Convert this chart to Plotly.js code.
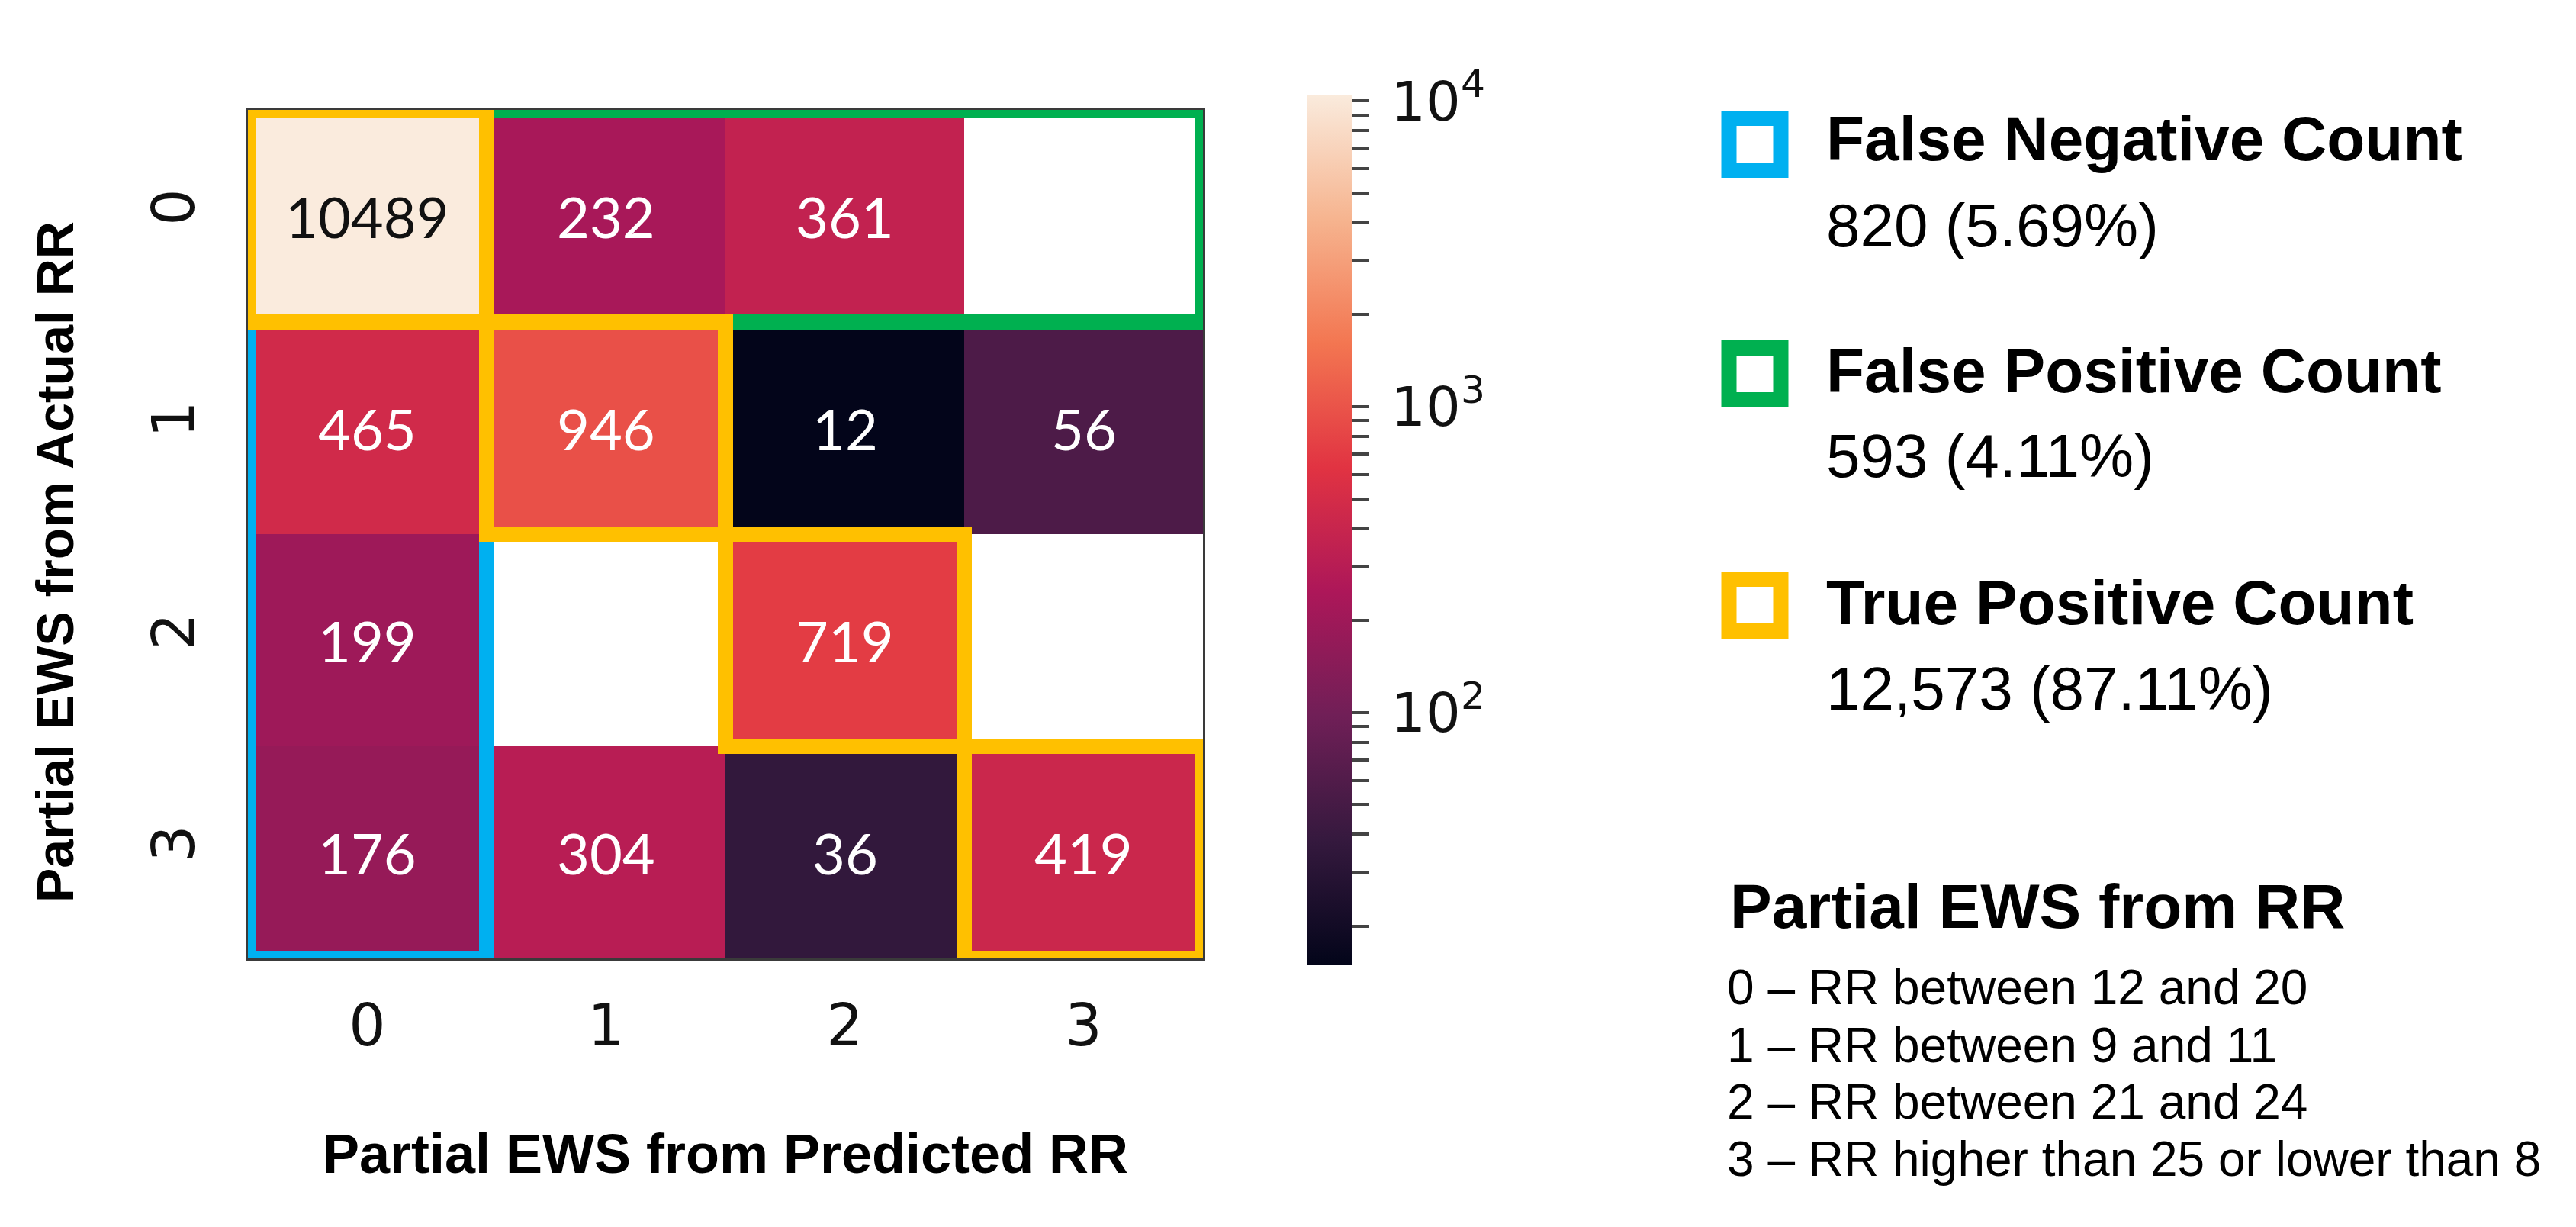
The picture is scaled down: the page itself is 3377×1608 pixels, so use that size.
<!DOCTYPE html>
<html>
<head>
<meta charset="utf-8">
<script src="https://cdn.plot.ly/plotly-3.0.1.min.js"></script>
<style>
  html, body { margin: 0; padding: 0; background: #ffffff; }
  #plot { width: 3377px; height: 1608px; }
</style>
</head>
<body>
<div id="plot"></div>
<script>
// Confusion matrix: rows = actual partial EWS, columns = predicted partial EWS
const predLabels = ["0", "1", "2", "3"];
const actualLabels = ["0", "1", "2", "3"];
const counts = [
  [10489, 232, 361, null],
  [465, 946, 12, 56],
  [199, null, 719, null],
  [176, 304, 36, 419],
];

// colour bar bottom
const colorMin = 15;
const barMajorTicks = [100, 1000, 10000];
const barMajorText = ["\u200910<sup>2</sup>", "\u200910<sup>3</sup>", "\u200910<sup>4</sup>"];
const barMinorTicks = [20, 30, 40, 50, 60, 70, 80, 90,
  200, 300, 400, 500, 600, 700, 800, 900,
  2000, 3000, 4000, 5000, 6000, 7000, 8000, 9000];

// highlighted groups of cells, [first, last] index
const fnRows = [1, 3], fnCols = [0, 0];
const fpRows = [0, 0], fpCols = [1, 3];
const tpDiagonal = [0, 1, 2, 3];

// right hand legend
const groupNames = ["False Negative Count", "False Positive Count", "True Positive Count"];
const groupValues = ["820 (5.69%)", "593 (4.11%)", "12,573 (87.11%)"];
const groupColors = ["#00B0F0", "#00B050", "#FFC000"];
const keyTitle = "Partial EWS from RR";
const keyLines = [
  "0 – RR between 12 and 20",
  "1 – RR between 9 and 11",
  "2 – RR between 21 and 24",
  "3 – RR higher than 25 or lower than 8",
];

const W = 3377, H = 1608;
const fx = (px) => px / W;
const fy = (py) => 1 - py / H;

// seaborn "rocket"
const rocket = [
  [0.0, "#03051a"],
  [0.143, "#35193e"],
  [0.286, "#701f57"],
  [0.429, "#ad1759"],
  [0.571, "#e13342"],
  [0.714, "#f37651"],
  [0.857, "#f6b48f"],
  [1.0, "#faebdd"],
];

const allCounts = counts.flat().filter((v) => v !== null);
const zMin = Math.log10(colorMin);
const zMax = Math.log10(Math.max(...allCounts));
const zLog = counts.map((row) => row.map((v) => (v === null ? null : Math.log10(v))));

const tickVals = barMajorTicks.concat(barMinorTicks).map(Math.log10);
const tickText = barMajorText.concat(barMinorTicks.map(() => ""));

const heat = {
  type: "heatmap",
  x: predLabels.map(Number),
  y: actualLabels.map(Number),
  z: zLog,
  colorscale: rocket,
  zmin: zMin,
  zmax: zMax,
  hoverinfo: "skip",
  colorbar: {
    x: fx(1713),
    xanchor: "left",
    xpad: 0,
    y: fy(694),
    yanchor: "middle",
    ypad: 0,
    len: (1264 - 124) / H,
    lenmode: "fraction",
    thickness: 60,
    thicknessmode: "pixels",
    outlinewidth: 0,
    tickmode: "array",
    tickvals: tickVals,
    ticktext: tickText,
    ticks: "outside",
    ticklen: 22,
    tickwidth: 4,
    tickcolor: "#444",
    tickfont: { family: "DejaVu Sans", size: 72, color: "#111" },
  },
};

function cellBox(rows, cols, color) {
  return {
    type: "rect",
    xref: "x",
    yref: "y",
    x0: cols[0] - 0.5,
    x1: cols[1] + 0.5,
    y0: rows[0] - 0.5,
    y1: rows[1] + 0.5,
    line: { color: color, width: 20 },
    fillcolor: "rgba(0,0,0,0)",
    layer: "above",
  };
}

const shapes = [
  cellBox(fnRows, fnCols, groupColors[0]),
  cellBox(fpRows, fpCols, groupColors[1]),
];
tpDiagonal.forEach((i) => shapes.push(cellBox([i, i], [i, i], groupColors[2])));

// legend keys: hollow squares
const keyTops = [145, 446, 749];
keyTops.forEach((top, i) => {
  shapes.push({
    type: "rect",
    xref: "paper",
    yref: "paper",
    x0: fx(2266.5),
    x1: fx(2334.5),
    y0: fy(top + 10),
    y1: fy(top + 78),
    line: { color: groupColors[i], width: 20 },
    fillcolor: "#ffffff",
  });
});

const annotations = [];

// cell counts, dark text only on the lightest cells
counts.forEach((row, r) => {
  row.forEach((v, c) => {
    if (v === null) return;
    const t = (Math.log10(v) - zMin) / (zMax - zMin);
    annotations.push({
      xref: "x", yref: "y",
      x: c, y: r,
      text: String(v),
      showarrow: false,
      font: { family: "Lato, sans-serif", size: 74, color: t > 0.8 ? "#111111" : "#ffffff" },
    });
  });
});

// y axis title, placed by hand so it sits a little below the plot centre like the original
annotations.push({
  xref: "paper", yref: "paper",
  x: fx(72), y: fy(737),
  xanchor: "center", yanchor: "middle",
  textangle: -90,
  text: "Partial EWS from Actual RR", showarrow: false,
  font: { family: "Liberation Sans", size: 68, weight: "bold", color: "#000" },
});

const titleY = [181, 485, 789];
const valueY = [295, 598, 902];
groupNames.forEach((name, i) => {
  annotations.push({
    xref: "paper", yref: "paper",
    x: fx(2392), y: fy(titleY[i]),
    xanchor: "left", yanchor: "middle",
    text: name, showarrow: false,
    font: { family: "Liberation Sans", size: 82, weight: "bold", color: "#000" },
  });
  annotations.push({
    xref: "paper", yref: "paper",
    x: fx(2392), y: fy(valueY[i]),
    xanchor: "left", yanchor: "middle",
    text: groupValues[i], showarrow: false,
    font: { family: "Liberation Sans", size: 80, color: "#000" },
  });
});
annotations.push({
  xref: "paper", yref: "paper",
  x: fx(2266), y: fy(1187),
  xanchor: "left", yanchor: "middle",
  text: keyTitle, showarrow: false,
  font: { family: "Liberation Sans", size: 82, weight: "bold", color: "#000" },
});
const lineY = [1294, 1370, 1444, 1519];
keyLines.forEach((t, i) => {
  annotations.push({
    xref: "paper", yref: "paper",
    x: fx(2262), y: fy(lineY[i]),
    xanchor: "left", yanchor: "middle",
    text: t, showarrow: false,
    font: { family: "Liberation Sans", size: 64, color: "#000" },
  });
});

const layout = {
  width: W,
  height: H,
  autosize: false,
  margin: { l: 0, r: 0, t: 0, b: 0, pad: 0 },
  paper_bgcolor: "#ffffff",
  plot_bgcolor: "#ffffff",
  showlegend: false,
  xaxis: {
    domain: [fx(325), fx(1577)],
    range: [-0.5, 3.5],
    tickmode: "array",
    tickvals: predLabels.map(Number),
    ticktext: predLabels,
    ticks: "outside",
    ticklen: 20,
    tickcolor: "rgba(0,0,0,0)",
    tickfont: { family: "DejaVu Sans", size: 76, color: "#111" },
    showgrid: false,
    zeroline: false,
    showline: true,
    mirror: true,
    linecolor: "#3a3a3a",
    linewidth: 3,
    title: {
      text: "Partial EWS from Predicted RR",
      standoff: 100,
      font: { family: "Liberation Sans", size: 72, weight: "bold", color: "#000" },
    },
  },
  yaxis: {
    domain: [fy(1256), fy(144)],
    range: [3.5, -0.5],
    tickmode: "array",
    tickvals: actualLabels.map(Number),
    ticktext: actualLabels,
    tickangle: -90,
    ticks: "outside",
    ticklen: 38,
    tickcolor: "rgba(0,0,0,0)",
    tickfont: { family: "DejaVu Sans", size: 76, color: "#111" },
    showgrid: false,
    zeroline: false,
    showline: true,
    mirror: true,
    linecolor: "#3a3a3a",
    linewidth: 3,
  },
  shapes: shapes,
  annotations: annotations,
};

Plotly.newPlot("plot", [heat], layout, { displayModeBar: false, staticPlot: true });
</script>
</body>
</html>
